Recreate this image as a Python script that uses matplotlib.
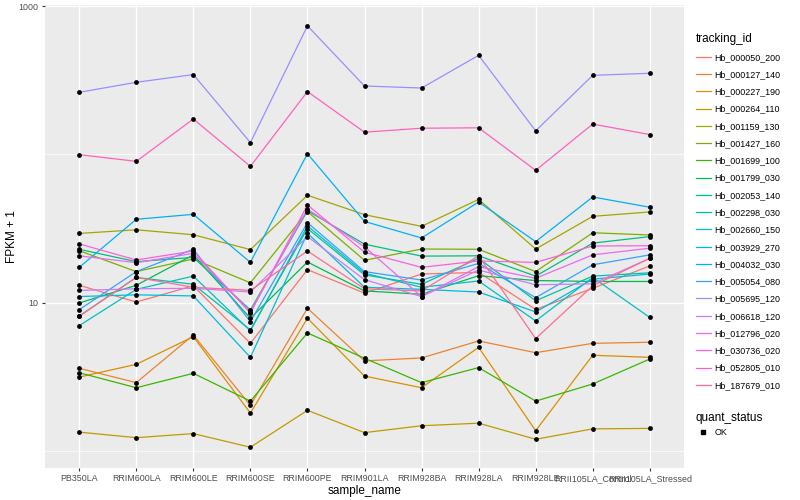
import matplotlib
matplotlib.use("Agg")
import matplotlib.pyplot as plt
from matplotlib.lines import Line2D

plt.rcParams['font.family'] = ['Liberation Sans', 'DejaVu Sans']

samples = ["PB350LA", "RRIM600LA", "RRIM600LE", "RRIM600SE", "RRIM600PE",
           "RRIM901LA", "RRIM928BA", "RRIM928LA", "RRIM928LE",
           "RRII105LA_Control", "RRII105LA_Stressed"]

tracking_ids = ["Hb_000050_200", "Hb_000127_140", "Hb_000227_190", "Hb_000264_110",
                "Hb_001159_130", "Hb_001427_160", "Hb_001699_100", "Hb_001799_030",
                "Hb_002053_140", "Hb_002298_030", "Hb_002660_150", "Hb_003929_270",
                "Hb_004032_030", "Hb_005054_080", "Hb_005695_120", "Hb_006618_120",
                "Hb_012796_020", "Hb_030736_020", "Hb_052805_010", "Hb_187679_010"]

# FPKM + 1 per sample
hb_000050_200 = [13.1, 10.1, 13.0, 5.32, 16.7, 11.6, 15.6, 16.0, 9.0, 12.5, 17.7]
hb_000127_140 = [3.61, 2.89, 6.05, 2.03, 9.17, 4.05, 4.24, 5.52, 4.6, 5.32, 5.41]
hb_000227_190 = [3.15, 3.84, 5.9, 1.8, 7.85, 3.2, 2.67, 5.0, 1.37, 4.42, 4.28]
hb_000264_110 = [1.34, 1.23, 1.31, 1.06, 1.88, 1.33, 1.48, 1.54, 1.2, 1.41, 1.42]
hb_001159_130 = [29.3, 31.0, 28.7, 22.8, 53.0, 39.2, 32.7, 49.7, 23.0, 38.2, 40.9]
hb_001427_160 = [22.4, 16.2, 19.7, 13.6, 41.1, 19.3, 23.0, 22.9, 16.2, 29.6, 28.6]
hb_001699_100 = [3.37, 2.67, 3.34, 2.17, 6.25, 4.22, 2.89, 3.65, 2.17, 2.83, 4.17]
hb_001799_030 = [9.95, 13.1, 21.0, 7.85, 18.8, 12.0, 11.4, 15.2, 14.1, 13.9, 13.9]
hb_002053_140 = [22.9, 18.9, 20.2, 8.93, 41.7, 24.8, 20.6, 20.7, 15.1, 25.2, 27.9]
hb_002298_030 = [8.13, 14.8, 13.3, 6.55, 31.6, 15.4, 13.3, 19.9, 10.3, 15.1, 15.9]
hb_002660_150 = [7.0, 12.3, 15.1, 6.45, 32.9, 15.8, 12.7, 14.0, 7.53, 14.8, 7.95]
hb_003929_270 = [11.0, 11.3, 11.1, 4.28, 29.4, 12.7, 12.3, 11.8, 8.66, 14.4, 15.6]
hb_004032_030 = [17.3, 36.5, 39.4, 18.7, 101.0, 35.3, 27.3, 47.7, 25.8, 51.6, 44.0]
hb_005054_080 = [8.97, 16.2, 22.9, 7.45, 34.6, 16.2, 14.2, 18.4, 10.8, 18.0, 21.0]
hb_005695_120 = [262, 306, 345, 120, 735, 289, 280, 465, 144, 341, 352]
hb_006618_120 = [12.1, 12.4, 12.5, 11.8, 27.9, 14.3, 11.0, 16.6, 13.2, 13.4, 19.9]
hb_012796_020 = [20.7, 18.6, 21.5, 8.7, 42.7, 23.8, 11.0, 17.5, 14.6, 21.0, 23.3]
hb_030736_020 = [24.9, 19.4, 22.3, 8.49, 45.6, 21.9, 17.3, 19.1, 18.7, 24.1, 24.2]
hb_052805_010 = [99.5, 89.7, 173, 83, 265, 141, 150, 151, 78, 160, 136]
hb_187679_010 = [8.1, 14.8, 12.7, 12.1, 22.3, 12.4, 12.0, 20.7, 5.72, 13.0, 19.9]

series = [hb_000050_200, hb_000127_140, hb_000227_190, hb_000264_110, hb_001159_130,
          hb_001427_160, hb_001699_100, hb_001799_030, hb_002053_140, hb_002298_030,
          hb_002660_150, hb_003929_270, hb_004032_030, hb_005054_080, hb_005695_120,
          hb_006618_120, hb_012796_020, hb_030736_020, hb_052805_010, hb_187679_010]

colors = ["#F8766D", "#EA8331", "#D89000", "#C09B00", "#A3A500", "#7CAE00", "#39B600",
          "#00BB4E", "#00BF7D", "#00C1A3", "#00BFC4", "#00BAE0", "#00B0F6", "#35A2FF",
          "#9590FF", "#C77CFF", "#E76BF3", "#FA62DB", "#FF62BC", "#FF6C91"]

fig = plt.figure(figsize=(8, 5), dpi=100)
ax = fig.add_axes([45 / 800, 32 / 500, 639 / 800, 463 / 500])
ax.set_facecolor("#EBEBEB")

x = list(range(len(samples)))
for vals, c in zip(series, colors):
    ax.plot(x, vals, color=c, lw=0.9, zorder=3)
for vals in series:
    ax.scatter(x, vals, color="black", s=12, zorder=4, linewidths=0)

ax.set_yscale("log")
ax.set_ylim(0.768, 1016)
ax.set_xlim(-0.6, len(samples) - 0.4)
ax.set_yticks([10, 1000])
ax.set_yticklabels(["10", "1000"])
ax.set_yticks([1, 100], minor=True)
ax.yaxis.set_minor_formatter(plt.NullFormatter())
ax.set_xticks(x)
ax.set_xticklabels(samples)

ax.grid(True, which="major", color="white", lw=1.0, zorder=0)
ax.grid(True, which="minor", axis="y", color="white", lw=0.5, zorder=0)
ax.set_axisbelow(True)
for s in ax.spines.values():
    s.set_visible(False)
ax.tick_params(axis="both", which="major", length=2.5, color="#333333",
               labelsize=6.4, labelcolor="#4D4D4D", pad=2)
ax.tick_params(axis="y", which="minor", length=0)

ax.set_xlabel("sample_name", fontsize=8.5, labelpad=1)
ax.set_ylabel("FPKM + 1", fontsize=8.5)
ax.yaxis.set_label_coords(-27 / 639, 0.5)

handles = [Line2D([], [], color=c, lw=0.9) for c in colors]
fig.legend(handles, tracking_ids, title="tracking_id", loc="upper left",
           bbox_to_anchor=(692 / 800, 1 - 29 / 500), frameon=False,
           fontsize=6.4, title_fontsize=8.5, handlelength=1.7,
           handletextpad=0.45, labelspacing=0.93, alignment="left",
           borderaxespad=0)
pt = [Line2D([], [], color="black", marker="s", ms=2.5, lw=0)]
fig.legend(pt, ["OK"], title="quant_status", loc="upper left",
           bbox_to_anchor=(692 / 800, 1 - 408 / 500), frameon=False,
           fontsize=6.4, title_fontsize=8.5, handlelength=1.7,
           handletextpad=0.45, alignment="left", borderaxespad=0)

fig.savefig("out.png", dpi=100)
